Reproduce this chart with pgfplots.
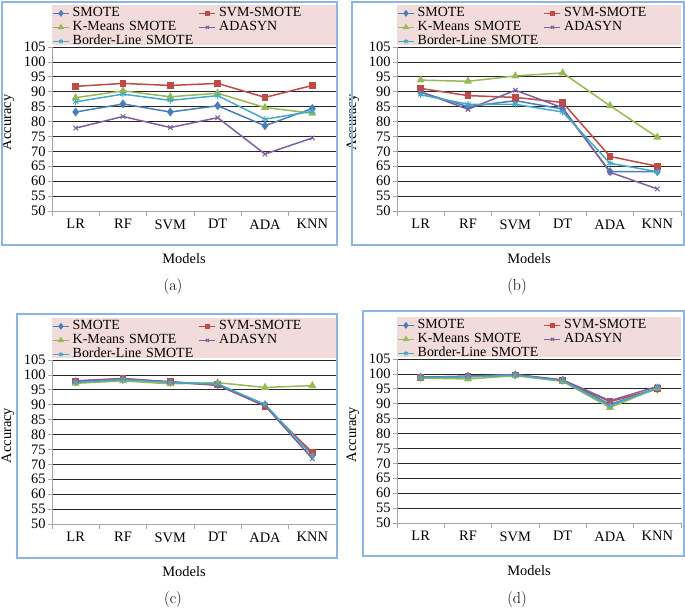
\documentclass[border=0pt]{standalone}
\usepackage{fontspec}
\newfontfamily\tnr{Liberation Serif}
\usepackage{pgfplots}
\usepackage{pgfplotstable}
\pgfplotsset{compat=1.18}
\definecolor{cSM}{HTML}{4A7EBB}
\definecolor{cSVM}{HTML}{BE4B48}
\definecolor{cKM}{HTML}{98B954}
\definecolor{cAD}{HTML}{7D60A0}
\definecolor{cBL}{HTML}{46AAC5}
\definecolor{legpink}{HTML}{F2DCDB}
\definecolor{frameblue}{HTML}{8EB4E3}
\newcommand{\cf}{\tnr\fontsize{14.5}{16}\selectfont}
\newcommand{\lf}{\tnr\fontsize{14}{15}\selectfont}

\pgfplotstableread{
x SM SVM KM AD BL
0 83.2 91.8 88.0 77.8 86.6
1 85.9 92.8 90.3 81.7 89.2
2 83.2 92.1 88.3 78.0 87.1
3 85.3 92.8 89.5 81.3 88.7
4 78.6 88.1 84.7 69.1 80.8
5 84.4 92.1 82.8 74.5 83.4
}\tabA
\pgfplotstableread{
x SM SVM KM AD BL
0 89.8 91.1 93.9 90.0 89.0
1 85.0 88.7 93.5 84.1 85.8
2 87.0 88.1 95.3 90.5 85.8
3 84.2 86.4 96.3 84.6 83.2
4 63.2 68.3 85.3 63.0 66.0
5 63.2 65.0 74.7 57.4 63.2
}\tabB
\pgfplotstableread{
x SM SVM KM AD BL
0 97.7 98.0 97.2 97.9 97.5
1 98.5 98.8 98.0 98.7 98.4
2 97.6 97.7 97.0 97.6 97.5
3 96.8 96.7 97.4 96.5 97.0
4 90.0 89.5 95.8 89.7 90.1
5 73.2 74.0 96.4 71.9 73.0
}\tabC
\pgfplotstableread{
x SM SVM KM AD BL
0 98.9 98.9 98.6 98.9 98.8
1 99.2 99.1 98.3 99.2 99.0
2 99.7 99.6 99.4 99.8 99.6
3 97.9 97.8 97.5 98.0 97.7
4 89.8 90.7 88.7 91.0 89.3
5 95.0 95.0 95.3 95.8 95.4
}\tabD

\pgfplotsset{
 panel/.style={
  width=284bp, height=164bp, scale only axis,
  xmin=-0.5, xmax=5.5, ymin=50, ymax=105,
  xtick={0,...,5}, xticklabels={LR,RF,SVM,DT,ADA,KNN},
  minor xtick={-0.5,0.5,...,5.5},
  ytick={50,55,...,105},
  axis lines*=left,
  axis line style={draw=gray!70, line width=0.8bp},
  tick align=outside,
  major tick length=4bp, minor tick length=5bp,
  major x tick style={draw=none},
  minor x tick style={draw=gray!70, line width=0.8bp},
  ytick style={draw=gray!70, line width=0.8bp},
  ymajorgrids,
  major grid style={black!85, line width=0.7bp},
  /pgf/number format/assume math mode=true,
  tick label style={font=\cf},
  yticklabel style={xshift=1bp},
  xticklabel style={yshift=-1bp},
  xlabel={Models}, ylabel={Accuracy},
  label style={font=\cf},
  xlabel style={at={(axis description cs:0.465,-0.287)}, anchor=center},
  ylabel style={at={(axis description cs:-0.155,0.54)}, anchor=center},
  legend columns=2,
  legend cell align=left,
  legend style={draw=none, fill=none, at={(0,1)}, anchor=south west,
    yshift=-0.5bp, inner sep=0pt, row sep=2bp, font=\lf,
    nodes={inner sep=0pt, text height=9.5bp, text depth=2.5bp, text width=124bp},
    /tikz/every odd column/.append style={column sep=3bp},
    /tikz/every even column/.append style={column sep=2bp}},
  legend image code/.code={\draw[mark repeat=2,mark phase=2,##1,every mark/.append style={scale=0.7}] plot coordinates {(0bp,0bp) (8bp,0bp) (16bp,0bp)};},
 },
 sSM/.style={cSM, line width=1.5bp, mark=diamond*, mark size=3.3bp, mark options={solid, fill=cSM}},
 sSVM/.style={cSVM, line width=1.5bp, mark=square*, mark size=2.6bp, mark options={solid, fill=cSVM}},
 sKM/.style={cKM, line width=1.5bp, mark=triangle*, mark size=3.2bp, mark options={solid, fill=cKM}},
 sAD/.style={cAD, line width=1.5bp, mark=x, mark size=3.2bp, mark options={solid, line width=1bp}},
 sBL/.style={cBL, line width=1.5bp, mark=asterisk, mark size=3.2bp, mark options={solid, line width=1bp}},
}
\newcommand{\plotall}[1]{%
  \addplot[sSM] table[x=x,y=SM]{#1};
  \addplot[sSVM] table[x=x,y=SVM]{#1};
  \addplot[sKM] table[x=x,y=KM]{#1};
  \addplot[sAD] table[x=x,y=AD]{#1};
  \addplot[sBL] table[x=x,y=BL]{#1};
  \legend{SMOTE,SVM-SMOTE,K-Means SMOTE,ADASYN,Border-Line SMOTE}%
}

\begin{document}
\begin{tikzpicture}
\useasboundingbox (0bp,0bp) rectangle (685bp,-608bp);
\fill[legpink] (52bp,-5bp) rectangle (336bp,-45bp);
\fill[legpink] (397bp,-5bp) rectangle (681bp,-45bp);
\fill[legpink] (52bp,-318bp) rectangle (336bp,-358bp);
\fill[legpink] (397bp,-317bp) rectangle (681bp,-357bp);
\begin{axis}[panel, at={(52bp,-211bp)}, anchor=south west]
\plotall{\tabA}
\end{axis}
\begin{axis}[panel, at={(397bp,-211bp)}, anchor=south west]
\plotall{\tabB}
\end{axis}
\begin{axis}[panel, at={(52bp,-524bp)}, anchor=south west]
\plotall{\tabC}
\end{axis}
\begin{axis}[panel, at={(397bp,-523bp)}, anchor=south west]
\plotall{\tabD}
\end{axis}
\draw[frameblue, line width=1.2bp] (2bp,-2bp) rectangle (337bp,-245bp);
\draw[frameblue, line width=1.2bp] (352bp,-2bp) rectangle (684bp,-245bp);
\draw[frameblue, line width=1.2bp] (17bp,-314bp) rectangle (337bp,-558bp);
\draw[frameblue, line width=1.2bp] (363bp,-311bp) rectangle (684bp,-556bp);
\node[font=\fontsize{16}{18}\selectfont] at (173bp,-287bp) {(a)};
\node[font=\fontsize{16}{18}\selectfont] at (517bp,-287bp) {(b)};
\node[font=\fontsize{16}{18}\selectfont] at (173bp,-600bp) {(c)};
\node[font=\fontsize{16}{18}\selectfont] at (517bp,-600bp) {(d)};
\end{tikzpicture}
\end{document}
